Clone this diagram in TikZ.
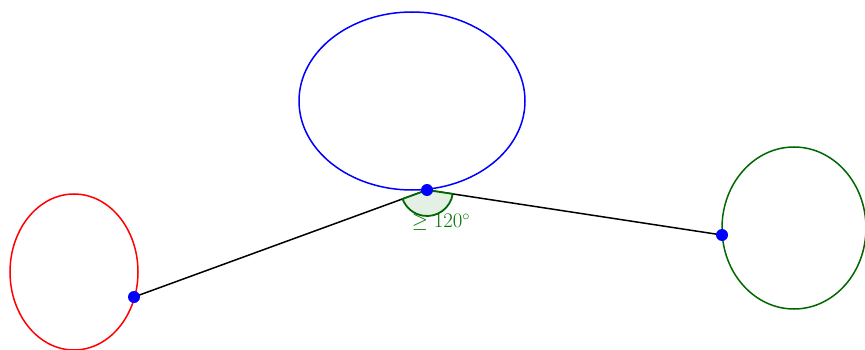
\documentclass[tikz,border=0pt]{standalone}
\begin{document}
\begin{tikzpicture}[x=1pt,y=-1pt,
  dot/.style={circle,fill=blue,inner sep=0pt,minimum size=12pt},
  seg/.style={black,line width=1.5pt},
  ell/.style={line width=1.5pt},
  sector/.style={draw=green!40!black,fill=green!40!black!10,line width=1.8pt},
  lab/.style={text=green!45!black,font=\fontsize{22}{26}\selectfont}]
\useasboundingbox (0,0) rectangle (865,350);
\begin{scope}
\clip (0,0) rectangle (865,350);
\draw[ell,red] (74,272) ellipse [x radius=64, y radius=78];
\draw[ell,blue] (412,101) ellipse [x radius=113, y radius=89];
\draw[ell,green!40!black] (794,228) ellipse [x radius=72, y radius=81];
\end{scope}
\coordinate (a) at (134,297);
\coordinate (m) at (427,190);
\coordinate (b) at (722,235);
\draw[seg] (a) -- (m) -- (b);
\draw[sector] (m) -- ++(8.67:26) arc[start angle=8.67, end angle=159.94, radius=26] -- cycle;
\node[lab] (t) at (441,222) {$\geq 120^\circ$};
\node[dot] (pa) at (a) {};
\node[dot] (pm) at (m) {};
\node[dot] (pb) at (b) {};
\end{tikzpicture}
\end{document}
